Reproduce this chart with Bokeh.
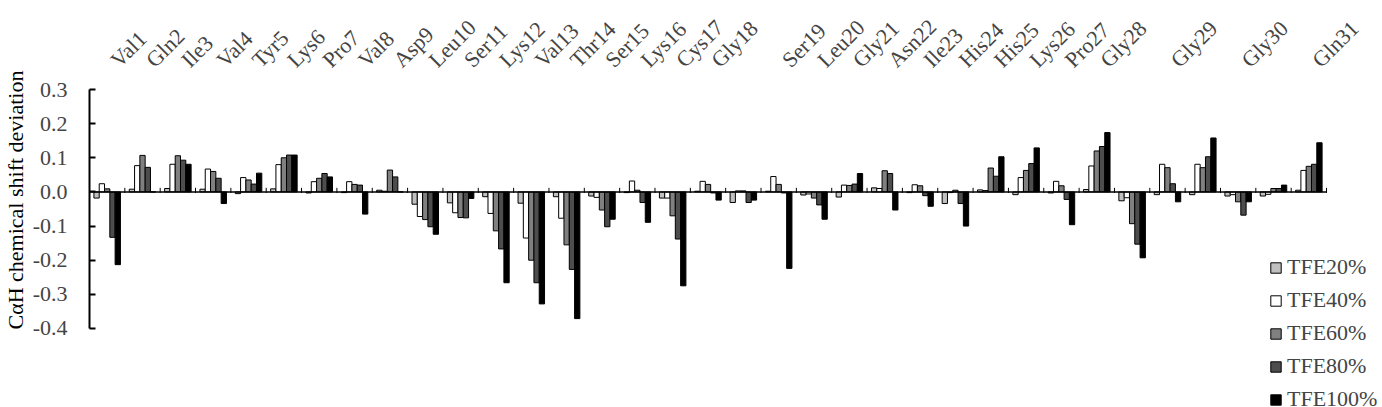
import math
from bokeh.plotting import figure
from bokeh.models import (Range1d, LinearAxis, FixedTicker, Legend, LegendItem,
                          ColumnDataSource, NumeralTickFormatter, Title)
from bokeh.embed import file_html
from bokeh.resources import INLINE

# ---------------- data ----------------
clusters = ["Val1", "Gln2", "Ile3", "Val4", "Tyr5", "Lys6", "Pro7", "Val8", "Asp9", "Leu10",
            "Ser11", "Lys12", "Val13", "Thr14", "Ser15", "Lys16", "Cys17", "Gly18", "Gly18",
            "Ser19", "Leu20", "Gly21", "Asn22", "Ile23", "His24", "His25", "Lys26", "Pro27",
            "Gly28", "Gly28", "Gly29", "Gly29", "Gly30", "Gly30", "Gln31"]

series_names = ["TFE20%", "TFE40%", "TFE60%", "TFE80%", "TFE100%"]

tfe20 = [-0.018, 0.008, 0.010, 0.008, -0.005, 0.009, -0.003, -0.002, 0.005, -0.036,
         -0.032, -0.014, -0.033, -0.014, -0.012, -0.002, -0.018, 0.002, -0.031, 0.002,
         -0.009, -0.015, 0.012, -0.002, -0.034, 0.006, -0.008, -0.003, 0.007, -0.026,
         -0.008, -0.008, -0.012, -0.012, 0.005]
tfe40 = [0.024, 0.077, 0.081, 0.067, 0.042, 0.080, 0.030, 0.030, 0.002, -0.072,
         -0.061, -0.063, -0.135, -0.077, -0.016, 0.032, -0.018, 0.031, 0.003, 0.045,
         -0.006, 0.020, 0.010, 0.021, -0.002, 0.004, 0.042, 0.031, 0.076, -0.017,
         0.081, 0.081, -0.008, -0.007, 0.063]
tfe60 = [0.009, 0.107, 0.106, 0.060, 0.035, 0.100, 0.040, 0.022, 0.064, -0.081,
         -0.075, -0.114, -0.200, -0.155, -0.053, 0.005, -0.070, 0.022, 0.003, 0.022,
         -0.018, 0.019, 0.062, 0.018, 0.005, 0.070, 0.063, 0.018, 0.120, -0.093,
         0.071, 0.071, -0.029, 0.010, 0.075]
tfe80 = [-0.133, 0.072, 0.093, 0.040, 0.023, 0.108, 0.054, 0.020, 0.044, -0.102,
         -0.076, -0.167, -0.266, -0.227, -0.102, -0.031, -0.138, -0.003, -0.031, -0.003,
         -0.038, 0.023, 0.054, -0.011, -0.034, 0.046, 0.083, -0.022, 0.133, -0.153,
         0.024, 0.103, -0.068, 0.010, 0.081]
tfe100 = [-0.213, 0.0, 0.081, -0.034, 0.055, 0.108, 0.044, -0.065, 0.0, -0.124,
          -0.019, -0.266, -0.328, -0.371, -0.080, -0.089, -0.275, -0.024, -0.024, -0.224,
          -0.080, 0.054, -0.053, -0.042, -0.100, 0.103, 0.129, -0.096, 0.174, -0.193,
          -0.029, 0.158, -0.029, 0.020, 0.144]

y_ticks = [-0.4, -0.3, -0.2, -0.1, 0.0, 0.1, 0.2, 0.3]
y_label = "C\u03b1H chemical shift deviation"

# ---------------- styling ----------------
colors = ["#c0c0c0", "#ffffff", "#808080", "#4d4d4d", "#000000"]
FONT = "Liberation Serif"
n = len(clusters)
bar_w = 0.15
label_shift = 0.2
y_lo, y_hi = y_ticks[0], y_ticks[-1]

# frame extends to the window's right and bottom edges so the legend can sit there;
# the value axis itself is bounded to [-0.4, 0.3]
p = figure(width=1382, height=407, title=None,
           x_range=Range1d(-0.5, n - 0.5 + 1.584), y_range=Range1d(y_lo - 0.2314, y_hi),
           output_backend="svg", toolbar_location=None,
           x_axis_location=None,
           min_border_left=89, min_border_right=0, min_border_top=89, min_border_bottom=0)
p.outline_line_color = None
p.xgrid.visible = False
p.ygrid.visible = False
p.background_fill_color = "white"
p.border_fill_color = "white"

# y axis
ya = p.yaxis[0]
ya.bounds = (y_lo, y_hi)
ya.ticker = FixedTicker(ticks=y_ticks)
ya.formatter = NumeralTickFormatter(format="0.0")
ya.axis_line_width = 2
ya.major_tick_line_width = 2
ya.major_tick_in = 6
ya.major_tick_out = 0
ya.minor_tick_line_color = None
ya.major_label_text_font = FONT
ya.major_label_text_font_size = "22px"
ya.major_label_standoff = 22

# y axis title as a side title, starting level with the bottom of the value axis
ytitle = Title(text=y_label, align="left", vertical_align="top", offset=78, standoff=0,
               text_font=FONT, text_font_size="22px", text_font_style="normal",
               text_color="black")
p.add_layout(ytitle, "left")

# top axis with residue names at the first cluster of each residue
first_idx = []
seen = set()
for i, c in enumerate(clusters):
    if c not in seen:
        seen.add(c)
        first_idx.append(i)
top = LinearAxis(ticker=FixedTicker(ticks=[i + label_shift for i in first_idx]),
                 major_label_overrides={i + label_shift: clusters[i] for i in first_idx})
top.major_label_orientation = math.radians(45)
top.axis_line_color = None
top.major_tick_line_color = None
top.minor_tick_line_color = None
top.major_label_text_font = FONT
top.major_label_text_font_size = "22px"
top.major_label_standoff = 20
p.add_layout(top, "above")

# bars
series = [tfe20, tfe40, tfe60, tfe80, tfe100]
items = []
for j, (name, vals, col) in enumerate(zip(series_names, series, colors)):
    xs = [i + (j - 2) * bar_w for i in range(n)]
    src = ColumnDataSource(dict(x=xs, top=vals))
    r = p.vbar(x="x", top="top", bottom=0, width=bar_w, source=src,
               fill_color=col, line_color="black", line_width=1)
    items.append(LegendItem(label=name, renderers=[r]))

# category axis line at zero with boundary ticks
p.segment(x0=[-0.5], x1=[n - 0.5], y0=[0], y1=[0], line_color="black", line_width=1.5)
bounds = [i + 0.5 for i in range(n)]
p.segment(x0=bounds, x1=bounds, y0=[-0.003] * n, y1=[0.012] * n,
          line_color="black", line_width=1)

legend = Legend(items=items, location=(1180, -5))
legend.label_text_font = FONT
legend.label_text_font_size = "22px"
legend.glyph_width = 13
legend.glyph_height = 13
legend.label_standoff = 5
legend.spacing = 7
legend.padding = 0
legend.margin = 0
legend.border_line_alpha = 0
legend.background_fill_alpha = 0
p.add_layout(legend)

open("out.html", "w").write(file_html(p, INLINE))
